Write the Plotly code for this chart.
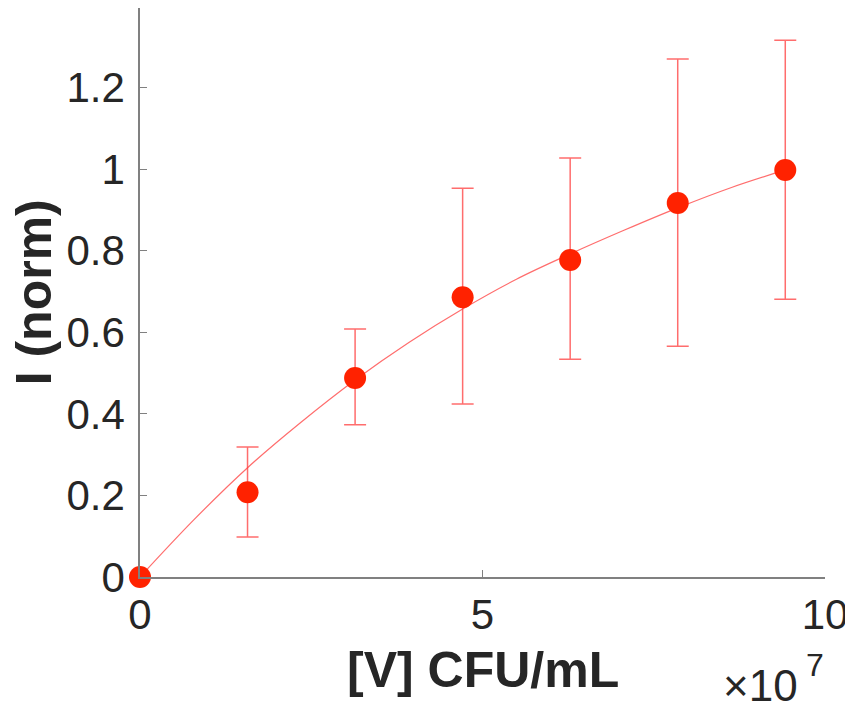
import plotly.graph_objects as go

# Data (concentration in CFU/mL, normalized intensity)
conc = [0, 1.57e7, 3.14e7, 4.71e7, 6.28e7, 7.85e7, 9.42e7]
intensity = [0.0, 0.208, 0.488, 0.686, 0.777, 0.917, 0.998]
err_plus = [0.0, 0.111, 0.120, 0.267, 0.250, 0.353, 0.318]
err_minus = [0.0, 0.110, 0.115, 0.262, 0.243, 0.351, 0.317]

# Fitted curve
fit_x = [0, 0.785e7, 1.57e7, 2.355e7, 3.14e7, 3.925e7, 4.71e7, 5.495e7,
         6.28e7, 7.065e7, 7.85e7, 8.635e7, 9.42e7]
fit_y = [0.0, 0.140, 0.268, 0.380, 0.483, 0.575, 0.657, 0.730,
         0.792, 0.850, 0.905, 0.955, 0.998]

x_tickvals = [0, 5e7, 10e7]
x_ticktext = ["0", "5", "10"]
y_tickvals = [0, 0.2, 0.4, 0.6, 0.8, 1.0, 1.2]
y_ticktext = ["0", "0.2", "0.4", "0.6", "0.8", "1", "1.2"]

RED = "rgb(255,34,0)"
LIGHT = "rgba(255,60,60,0.75)"
FONT = "Liberation Sans, Arial, Helvetica, sans-serif"
TEXT = "#262626"

fig = go.Figure()
fig.add_trace(go.Scatter(
    x=fit_x, y=fit_y, mode="lines", line=dict(color=LIGHT, width=1.2, shape="spline"),
    hoverinfo="skip", showlegend=False))
fig.add_trace(go.Scatter(
    x=conc, y=intensity, mode="markers",
    marker=dict(color=RED, size=22, line=dict(width=0)),
    error_y=dict(type="data", symmetric=False, array=err_plus, arrayminus=err_minus,
                 color=LIGHT, thickness=1.5, width=11),
    showlegend=False, cliponaxis=False))

fig.update_layout(
    width=845, height=698,
    margin=dict(l=132, r=28, t=0, b=129),
    plot_bgcolor="white", paper_bgcolor="white",
    font=dict(family=FONT, size=42, color=TEXT),
    xaxis=dict(range=[0, 10e7], tickvals=x_tickvals, ticktext=x_ticktext,
               showgrid=False, zeroline=False, showline=True, linecolor="#808080",
               linewidth=1.5, ticks="inside", ticklen=7, tickcolor="#808080",
               tickfont=dict(size=42, color=TEXT), ticklabelstandoff=0),
    yaxis=dict(range=[0, 1.395], tickvals=y_tickvals, ticktext=y_ticktext,
               showgrid=False, zeroline=False, showline=True, linecolor="#808080",
               linewidth=1.5, ticks="inside", ticklen=7, tickcolor="#808080",
               tickfont=dict(size=42, color=TEXT), ticklabelstandoff=5),
    annotations=[
        dict(text="<b>[V] CFU/mL</b>", xref="paper", yref="paper", x=0.5, y=-0.163,
             xanchor="center", yanchor="middle", showarrow=False,
             font=dict(size=50, color=TEXT)),
        dict(text="<b>I (norm)</b>", xref="paper", yref="paper", x=-0.155, y=0.5,
             xanchor="center", yanchor="middle", textangle=-90, showarrow=False,
             font=dict(size=50, color=TEXT)),
        dict(text="×10", xref="paper", yref="paper", x=0.9635, y=-0.19,
             xanchor="right", yanchor="middle", showarrow=False,
             font=dict(size=44, color=TEXT)),
        dict(text="7", xref="paper", yref="paper", x=0.969, y=-0.155,
             xanchor="left", yanchor="middle", showarrow=False,
             font=dict(size=32, color=TEXT)),
    ],
)

fig.write_html("out.html")
